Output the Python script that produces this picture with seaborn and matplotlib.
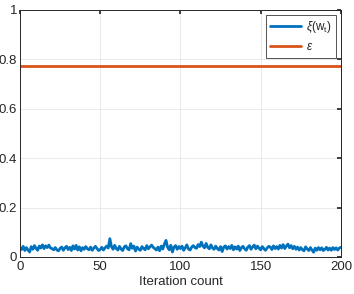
import numpy as np
import pandas as pd
import matplotlib
matplotlib.use("Agg")
import matplotlib.pyplot as plt
import seaborn as sns

# values (iterations 0..200)
xi_values = [
    0.038, 0.030, 0.043, 0.026, 0.038, 0.028, 0.020, 0.042, 0.031, 0.046,
    0.035, 0.027, 0.044, 0.036, 0.049, 0.034, 0.045, 0.038, 0.048, 0.036,
    0.034, 0.029, 0.038, 0.028, 0.025, 0.035, 0.040, 0.027, 0.037, 0.043,
    0.030, 0.039, 0.026, 0.045, 0.032, 0.047, 0.028, 0.041, 0.025, 0.038,
    0.031, 0.042, 0.033, 0.029, 0.040, 0.027, 0.036, 0.043, 0.034, 0.026,
    0.030, 0.039, 0.028, 0.037, 0.044, 0.036, 0.074, 0.042, 0.031, 0.047,
    0.034, 0.028, 0.043, 0.032, 0.026, 0.041, 0.045, 0.033, 0.029, 0.054,
    0.035, 0.044, 0.024, 0.040, 0.031, 0.027, 0.042, 0.034, 0.029, 0.046,
    0.033, 0.041, 0.048, 0.039, 0.034, 0.028, 0.040, 0.025, 0.044, 0.032,
    0.052, 0.067, 0.039, 0.029, 0.047, 0.020, 0.040, 0.046, 0.031, 0.042,
    0.034, 0.044, 0.027, 0.037, 0.049, 0.032, 0.028, 0.040, 0.046, 0.038,
    0.035, 0.050, 0.042, 0.060, 0.044, 0.037, 0.055, 0.039, 0.033, 0.049,
    0.036, 0.031, 0.044, 0.034, 0.028, 0.042, 0.022, 0.040, 0.045, 0.032,
    0.042, 0.034, 0.047, 0.029, 0.041, 0.032, 0.044, 0.026, 0.038, 0.043,
    0.033, 0.027, 0.040, 0.046, 0.031, 0.041, 0.048, 0.033, 0.044, 0.035,
    0.029, 0.042, 0.034, 0.027, 0.036, 0.043, 0.040, 0.030, 0.045, 0.034,
    0.042, 0.032, 0.047, 0.036, 0.050, 0.034, 0.044, 0.052, 0.037, 0.046,
    0.033, 0.043, 0.031, 0.040, 0.028, 0.038, 0.029, 0.025, 0.041, 0.032,
    0.026, 0.038, 0.028, 0.019, 0.036, 0.027, 0.038, 0.029, 0.037, 0.026,
    0.031, 0.039, 0.028, 0.036, 0.027, 0.038, 0.030, 0.037, 0.028, 0.036,
    0.039,
]
epsilon = 0.773
iterations = list(range(len(xi_values)))

df = pd.DataFrame({"iter": iterations, "xi": xi_values, "eps": [epsilon] * len(xi_values)})

sns.set_theme(style="whitegrid")
plt.rcParams["font.family"] = ["Liberation Sans", "DejaVu Sans"]
plt.rcParams["mathtext.fontset"] = "custom"
plt.rcParams["mathtext.rm"] = "Liberation Sans"
plt.rcParams["mathtext.it"] = "Liberation Sans:italic"

fig = plt.figure(figsize=(3.54, 2.94), dpi=100)
ax = fig.add_axes([0.0565, 0.126, 0.9065, 0.840])

sns.lineplot(data=df, x="iter", y="xi", ax=ax, color="#0072BD", linewidth=2.0,
             label=r"$\xi(\mathrm{w_t})$")
sns.lineplot(data=df, x="iter", y="eps", ax=ax, color="#D95319", linewidth=2.0,
             label=r"$\epsilon$")

ax.set_xlim(0, 200)
ax.set_ylim(0, 1)
ax.set_xticks([0, 50, 100, 150, 200])
ax.set_yticks([0, 0.2, 0.4, 0.6, 0.8, 1])
ax.set_yticklabels(["0", "0.2", "0.4", "0.6", "0.8", "1"])
ax.set_xlabel("Iteration count", fontsize=9.5, labelpad=2)
ax.set_ylabel("")
ax.tick_params(axis="both", labelsize=9.5, direction="in", length=3,
               colors="#262626", top=True, right=True)
ax.tick_params(axis="x", pad=3)
ax.tick_params(axis="y", pad=2)
ax.grid(True, color="#e6e6e6", linewidth=0.6)
for s in ax.spines.values():
    s.set_color("#262626")
    s.set_linewidth(0.7)

leg = ax.legend(loc="upper right", fontsize=8.5, frameon=True, fancybox=False,
                borderpad=0.4, handlelength=2.6, handletextpad=0.4,
                labelspacing=0.5, borderaxespad=0.4)
leg.get_frame().set_edgecolor("#262626")
leg.get_frame().set_linewidth(0.7)

fig.savefig("out.png", dpi=100)
